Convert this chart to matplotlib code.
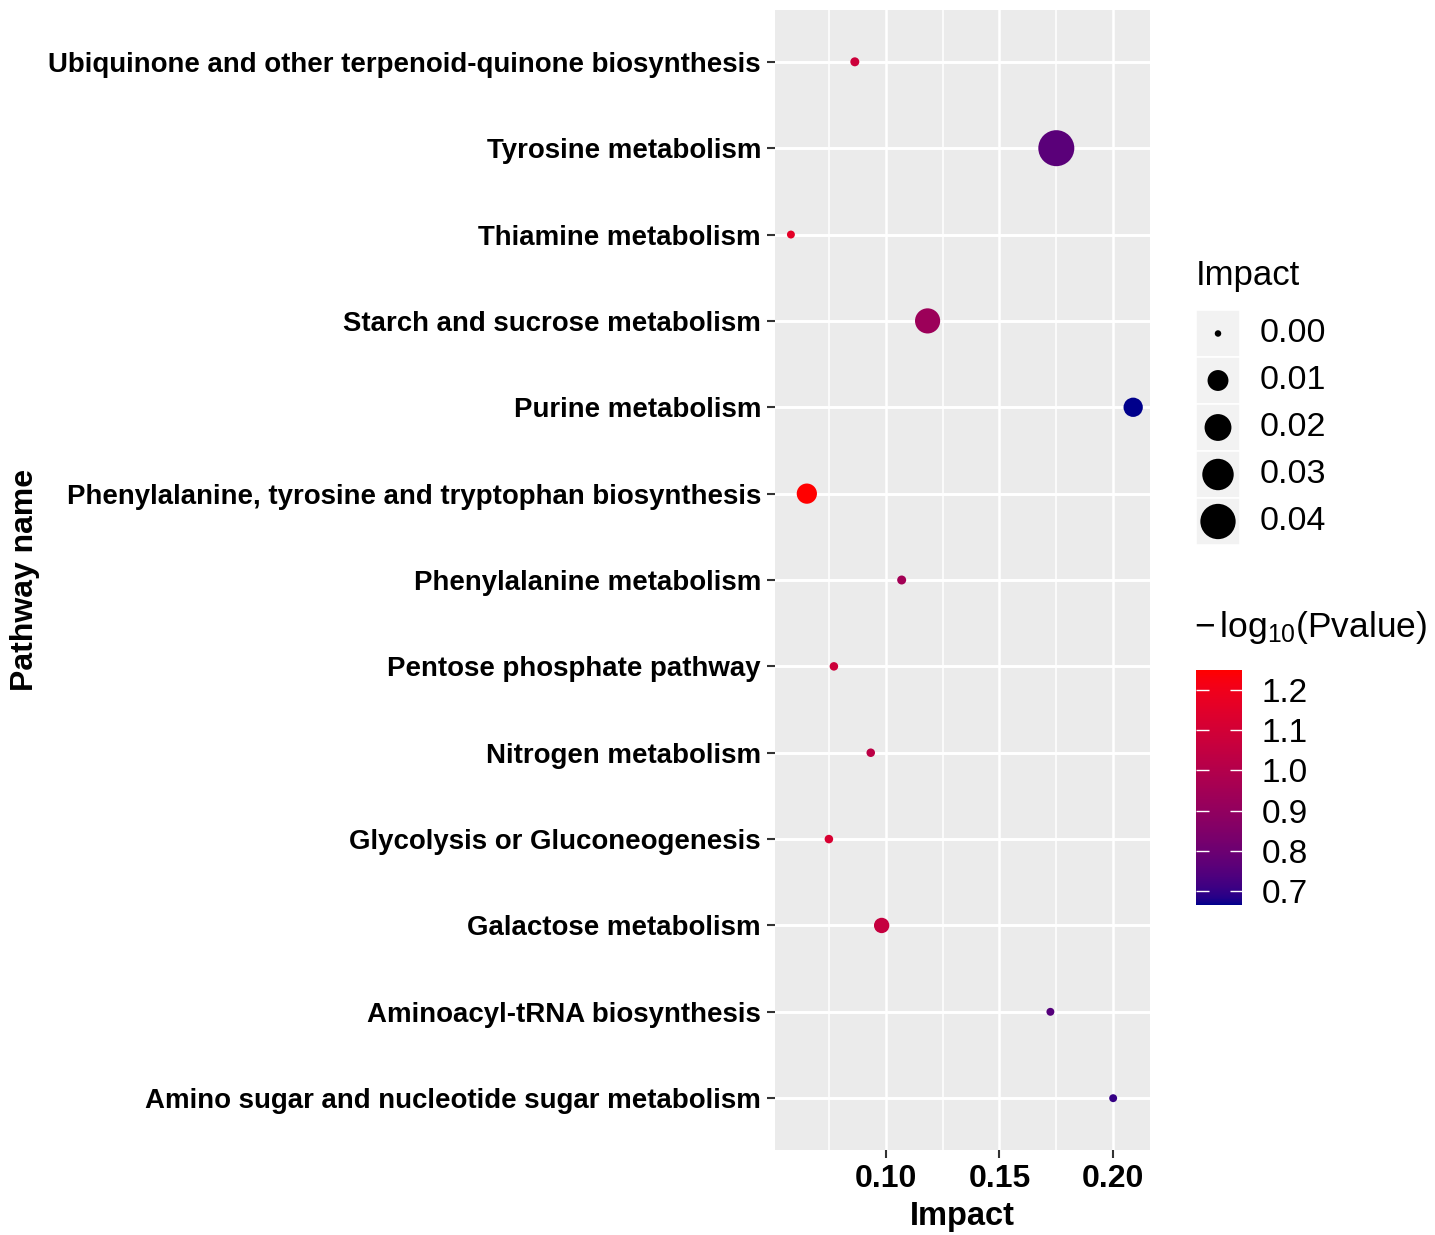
import numpy as np
import matplotlib
matplotlib.use("Agg")
import matplotlib.pyplot as plt
from matplotlib.colors import ListedColormap, to_rgb
from matplotlib.patches import Rectangle

plt.rcParams['font.family'] = ['Liberation Sans', 'DejaVu Sans']
plt.rcParams['mathtext.fontset'] = 'custom'
plt.rcParams['mathtext.rm'] = 'Liberation Sans'
plt.rcParams['mathtext.it'] = 'Liberation Sans:italic'
plt.rcParams['mathtext.bf'] = 'Liberation Sans:bold'

# data, listed bottom to top as drawn
pathways = [
    'Amino sugar and nucleotide sugar metabolism',
    'Aminoacyl-tRNA biosynthesis',
    'Galactose metabolism',
    'Glycolysis or Gluconeogenesis',
    'Nitrogen metabolism',
    'Pentose phosphate pathway',
    'Phenylalanine metabolism',
    'Phenylalanine, tyrosine and tryptophan biosynthesis',
    'Purine metabolism',
    'Starch and sucrose metabolism',
    'Thiamine metabolism',
    'Tyrosine metabolism',
    'Ubiquinone and other terpenoid-quinone biosynthesis',
]
impact = [0.2000, 0.1724, 0.0982, 0.0750, 0.0934, 0.0772, 0.1070,
          0.0653, 0.2088, 0.1184, 0.0583, 0.1750, 0.0864]
bubble_size = [0.0001, 0.0001, 0.0038, 0.0002, 0.0002, 0.0002, 0.0003,
               0.0091, 0.0079, 0.0168, 0.0001, 0.0420, 0.0003]
neg_log_p = [0.70, 0.75, 1.06, 1.12, 1.03, 1.08, 0.95,
             1.25, 0.665, 0.93, 1.16, 0.76, 1.08]

x_breaks = [0.10, 0.15, 0.20]
x_labels = ['0.10', '0.15', '0.20']
x_minor = [0.075, 0.125, 0.175]
size_breaks = [0.00, 0.01, 0.02, 0.03, 0.04]
size_labels = ['0.00', '0.01', '0.02', '0.03', '0.04']
color_breaks = [0.7, 0.8, 0.9, 1.0, 1.1, 1.2]
color_labels = ['0.7', '0.8', '0.9', '1.0', '1.1', '1.2']

W, H = 1435, 1235
M = np.array([[0.4124, 0.3576, 0.1805],
              [0.2126, 0.7152, 0.0722],
              [0.0193, 0.1192, 0.9505]])
WHITE = np.array([0.95047, 1.0, 1.08883])


def srgb_to_lab(rgb):
    c = np.asarray(rgb, float)
    lin = np.where(c <= 0.04045, c / 12.92, ((c + 0.055) / 1.055) ** 2.4)
    xyz = M @ lin / WHITE
    f = np.where(xyz > (6 / 29) ** 3, np.cbrt(xyz), xyz / (3 * (6 / 29) ** 2) + 4 / 29)
    return np.array([116 * f[1] - 16, 500 * (f[0] - f[1]), 200 * (f[1] - f[2])])


def lab_to_srgb(lab):
    L, a, b = lab
    fy = (L + 16) / 116
    f = np.array([fy + a / 500, fy, fy - b / 200])
    xyz = np.where(f > 6 / 29, f ** 3, 3 * (6 / 29) ** 2 * (f - 4 / 29)) * WHITE
    lin = np.clip(np.linalg.solve(M, xyz), 0, 1)
    c = np.where(lin <= 0.0031308, 12.92 * lin, 1.055 * lin ** (1 / 2.4) - 0.055)
    return np.clip(c, 0, 1)


def lab_gradient(low, high, n=256):
    a, b = srgb_to_lab(to_rgb(low)), srgb_to_lab(to_rgb(high))
    return ListedColormap([lab_to_srgb(a + (b - a) * t) for t in np.linspace(0, 1, n)])


def size_px(v, vmax=max(bubble_size), dmin=6.5, dmax=36.0):
    # ggplot area palette: diameter grows with sqrt of rescaled value
    return dmin + np.sqrt(np.asarray(v) / vmax) * (dmax - dmin)


def to_area(d_px):
    return (np.asarray(d_px) * 72 / 100) ** 2


cmap = lab_gradient('darkblue', 'red')
vmin, vmax = min(neg_log_p), max(neg_log_p)

fig = plt.figure(figsize=(W / 100, H / 100), dpi=100)
ax = fig.add_axes([775 / W, 1 - 1150 / H, 375 / W, 1140 / H])
ax.set_facecolor('#EBEBEB')
y = np.arange(1, len(pathways) + 1)
sc = ax.scatter(impact, y, s=to_area(size_px(bubble_size)), c=neg_log_p, cmap=cmap,
                vmin=vmin, vmax=vmax, linewidths=0, zorder=3)
ax.set_xlim(0.0513, 0.2162)
ax.set_ylim(0.4, len(pathways) + 0.6)
ax.set_xticks(x_breaks, x_labels, fontsize=23, fontweight='bold')
ax.set_xticks(x_minor, minor=True)
ax.set_yticks(y, pathways, fontsize=19.9, fontweight='bold')
ax.grid(which='major', axis='y', color='white', lw=2.1)
ax.grid(which='major', axis='x', color='white', lw=1.8)
ax.grid(which='minor', axis='x', color='white', lw=1.1)
ax.set_axisbelow(True)
for s in ax.spines.values():
    s.set_visible(False)
ax.tick_params(which='minor', length=0)
ax.tick_params(which='major', length=6, width=1.5, color='#333333', labelcolor='black', pad=4)
ax.set_xlabel('Impact', fontsize=23.5, fontweight='bold', labelpad=5)
fig.text(25 / W, 1 - 580 / H, 'Pathway name', rotation=90, fontsize=23,
         fontweight='bold', ha='center', va='center')

# size legend
fig.text(1196 / W, 1 - 275 / H, 'Impact', fontsize=25, ha='left', va='center')
lg = fig.add_axes([1196 / W, 1 - 545 / H, 44 / W, 235 / H])
lg.set_xlim(0, 1)
lg.set_ylim(len(size_breaks) - 0.5, -0.5)
lg.axis('off')
for i, lab in enumerate(size_labels):
    lg.add_patch(Rectangle((0, i - 0.5), 1, 1, facecolor='#F2F2F2', edgecolor='white', lw=1.2))
    lg.text(1.45, i, lab, fontsize=24.5, va='center', ha='left', clip_on=False)
lg.scatter([0.5] * len(size_breaks), range(len(size_breaks)),
           s=to_area(size_px(size_breaks)), color='black', linewidths=0, zorder=3)

# colour bar
fig.text(1194 / W, 1 - 628 / H, r'$-\,\mathrm{log}_{10}$(Pvalue)', fontsize=25.5,
         ha='left', va='center')
cax = fig.add_axes([1196 / W, 1 - 905 / H, 46 / W, 235 / H])
cb = fig.colorbar(sc, cax=cax, ticks=color_breaks)
cb.set_ticklabels(color_labels)
cb.outline.set_visible(False)
cax.tick_params(direction='in', color='white', length=9, width=1, labelsize=24,
                left=True, right=True, pad=14)

fig.savefig('out.png', dpi=100, facecolor='white')
